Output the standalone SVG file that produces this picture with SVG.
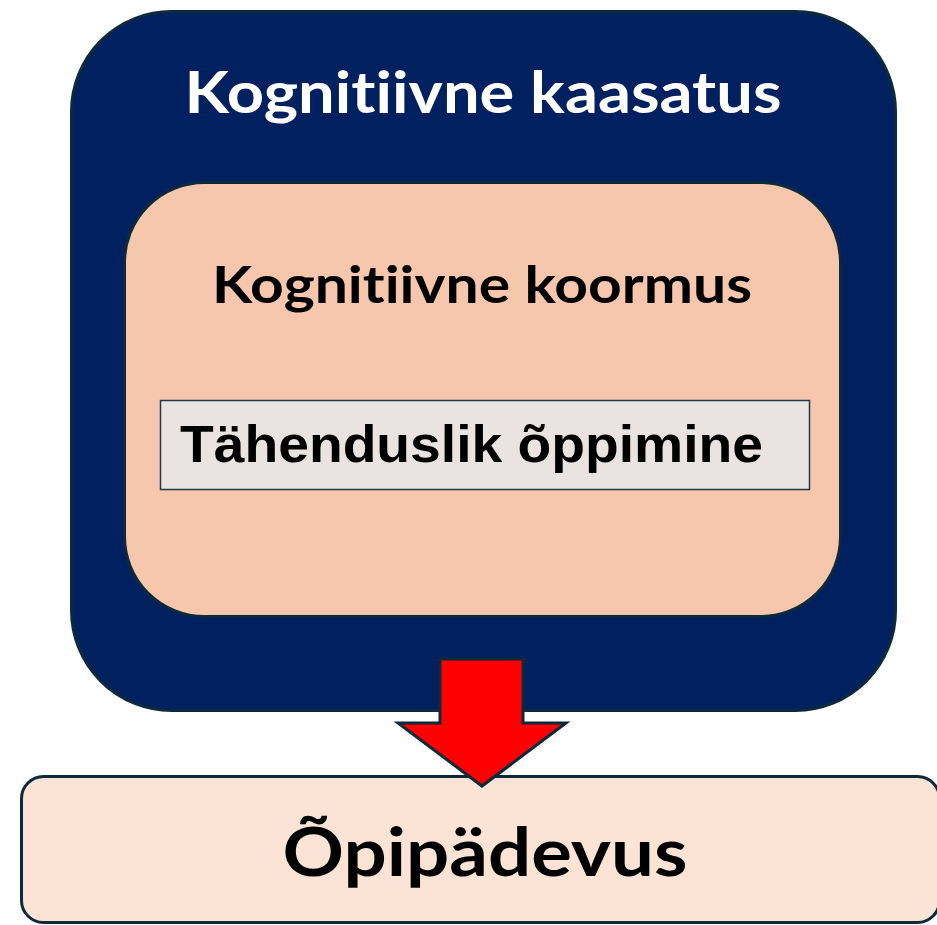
<svg xmlns="http://www.w3.org/2000/svg" width="937" height="925" viewBox="0 0 937 925">
<style>
.box{stroke:#0d2a3a;stroke-width:3}
.t{font-family:Lato,"Open Sans","Liberation Sans",sans-serif;font-weight:bold;text-anchor:middle;font-variant-ligatures:none;font-feature-settings:"liga" 0,"dlig" 0}
.a{font-family:"Liberation Sans",Arial,sans-serif;font-weight:bold}
</style>
<rect width="937" height="925" fill="#ffffff"/>
<g id="outer">
<rect class="box" x="71.5" y="11.5" width="824" height="699" rx="100" ry="100" fill="#002060"/>
<text class="t" x="483" y="113" font-size="58" fill="#ffffff" textLength="597" lengthAdjust="spacingAndGlyphs">Kognitiivne kaasatus</text>
</g>
<g id="inner">
<rect class="box" x="124.5" y="182.5" width="716" height="434" rx="80" ry="80" fill="#F6C6AD"/>
<text class="t" x="482" y="303" font-size="52" fill="#000000" textLength="540" lengthAdjust="spacingAndGlyphs">Kognitiivne koormus</text>
</g>
<g id="meaningful">
<rect x="160.5" y="400.5" width="649" height="89" fill="#E9E4E1" stroke="#1f3a4a" stroke-width="1.5"/>
<text class="a" x="180" y="462" font-size="52" fill="#000000" textLength="583" lengthAdjust="spacingAndGlyphs">Tähenduslik õppimine</text>
</g>
<g id="competence">
<rect class="box" x="21.5" y="776.5" width="918" height="146" rx="22" ry="22" fill="#FBE3D6"/>
<text class="t" x="485" y="876" font-size="66" fill="#000000" textLength="405" lengthAdjust="spacingAndGlyphs">Õpipädevus</text>
</g>
<g id="connectors">
<polygon points="440,659 523,659 523,723 566,723 482,786 398,723 440,723" fill="#FF0000" stroke="#0d2a3a" stroke-width="3" stroke-linejoin="miter"/>
</g>
</svg>
